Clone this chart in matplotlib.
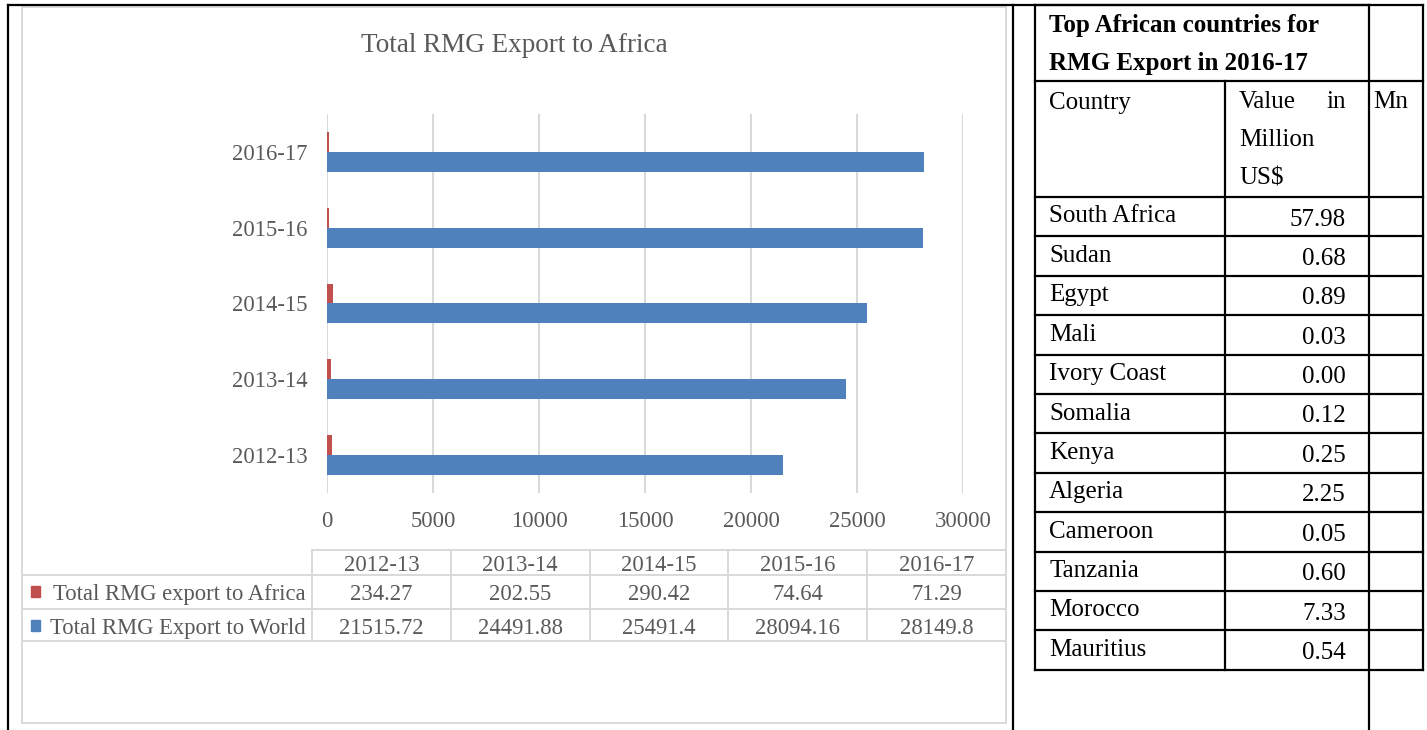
import matplotlib.pyplot as plt
from matplotlib.patches import Rectangle

plt.rcParams['font.family'] = ['Liberation Serif', 'DejaVu Serif']

# export figures, million US$
years = ['2012-13', '2013-14', '2014-15', '2015-16', '2016-17']
africa = [234.27, 202.55, 290.42, 74.64, 71.29]
world = [21515.72, 24491.88, 25491.4, 28094.16, 28149.8]
series_names = ['Total RMG export to Africa', 'Total RMG Export to World']

countries = ['South Africa', 'Sudan', 'Egypt', 'Mali', 'Ivory Coast', 'Somalia',
             'Kenya', 'Algeria', 'Cameroon', 'Tanzania', 'Morocco', 'Mauritius']
country_values = [57.98, 0.68, 0.89, 0.03, 0.00, 0.12, 0.25, 2.25, 0.05, 0.60, 7.33, 0.54]

RED = '#C0504D'
BLUE = '#4F81BD'
GREY_TXT = '#595959'
GRID = '#D9D9D9'
FS_CHART = 16.3
FS_TABLE = 18

W, H = 1427, 730
fig = plt.figure(figsize=(W / 100, H / 100), dpi=100)

# full-page layer in pixel units for borders and tables
bg = fig.add_axes([0, 0, 1, 1], zorder=0)
bg.set_xlim(0, W)
bg.set_ylim(H, 0)
bg.axis('off')

def hline(y, x0, x1, color='black', lw=1.6):
    bg.plot([x0, x1], [y, y], color=color, lw=lw, solid_capstyle='projecting')

def vline(x, y0, y1, color='black', lw=1.6):
    bg.plot([x, x], [y0, y1], color=color, lw=lw, solid_capstyle='projecting')

# page cell borders
hline(5, 8, 1369)
vline(8, 5, H)
vline(1013, 5, H)

# chart area frame
bg.add_patch(Rectangle((21.5, 6.5), 1006 - 21.5, 723 - 6.5, fill=False,
                       edgecolor=GRID, lw=1.4))

# chart
ax = fig.add_axes([327 / W, 1 - 493 / H, 636 / W, 379 / H], zorder=1)
ax.patch.set_alpha(0)
pos = list(range(len(years)))
bh = 0.263
ax.barh([p + bh / 2 for p in pos], africa, height=bh, color=RED)
ax.barh([p - bh / 2 for p in pos], world, height=bh, color=BLUE)
ax.set_xlim(0, 30000)
ax.set_ylim(-0.5, len(years) - 0.5)
ax.set_xticks(range(0, 30001, 5000))
ax.set_yticks(pos, years)
ax.tick_params(length=0, labelsize=FS_CHART, labelcolor=GREY_TXT)
ax.tick_params(axis='y', pad=14)
ax.tick_params(axis='x', pad=13)
ax.grid(axis='x', color=GRID, lw=1.5)
ax.set_axisbelow(True)
for s in ax.spines.values():
    s.set_visible(False)

bg.text(514, 43, 'Total RMG Export to Africa', ha='center', va='center_baseline',
        fontsize=19.5, color=GREY_TXT)

# data table under the chart
col_l, col_r = 312, 1006
cw = (col_r - col_l) / len(years)
row_edges = [550, 575, 609, 641]
hline(row_edges[0], col_l, col_r, GRID, 1.4)
for y in row_edges[1:]:
    hline(y, 22, col_r, GRID, 1.4)
for i in range(len(years) + 1):
    vline(col_l + i * cw, row_edges[0], row_edges[-1], GRID, 1.4)

for i, yr in enumerate(years):
    cx = col_l + (i + 0.5) * cw
    bg.text(cx, 563, yr, ha='center', va='center_baseline', fontsize=FS_CHART, color=GREY_TXT)
    bg.text(cx, 592, str(africa[i]), ha='center', va='center_baseline', fontsize=FS_CHART, color=GREY_TXT)
    bg.text(cx, 626, str(world[i]), ha='center', va='center_baseline', fontsize=FS_CHART, color=GREY_TXT)

for yc, name, c in [(592, series_names[0], RED), (626, series_names[1], BLUE)]:
    bg.add_patch(Rectangle((31, yc - 6), 9, 11, color=c))
    bg.text(306, yc, name, ha='right', va='center_baseline', fontsize=FS_CHART, color=GREY_TXT)

# country table on the right
tl, tc1, tc2, tr = 1035, 1225, 1369, 1423
ttop, thead, tbody = 5, 81, 197
rh = 39.4
tbot = tbody + rh * len(countries)

hline(ttop, tl, tr)
hline(thead, tl, tr)
vline(tl, ttop, tbot)
vline(tr, ttop, tbot)
vline(tc2, ttop, H)
vline(tc1, thead, tbot)
for i in range(len(countries) + 1):
    hline(tbody + i * rh, tl, tr)

bg.text(1049, 23, 'Top African countries for', ha='left', va='center_baseline',
        fontsize=FS_TABLE, fontweight='bold')
bg.text(1049, 61, 'RMG Export in 2016-17', ha='left', va='center_baseline',
        fontsize=FS_TABLE, fontweight='bold')
bg.text(1049, 100, 'Country', ha='left', va='center_baseline', fontsize=FS_TABLE)
bg.text(1239, 100, 'Value', ha='left', va='center_baseline', fontsize=FS_TABLE)
bg.text(1346, 100, 'in', ha='right', va='center_baseline', fontsize=FS_TABLE)
bg.text(1239, 137, 'Million', ha='left', va='center_baseline', fontsize=FS_TABLE)
bg.text(1239, 176, 'US$', ha='left', va='center_baseline', fontsize=FS_TABLE)
bg.text(1373, 100, 'Mn', ha='left', va='center_baseline', fontsize=FS_TABLE)

for i, (name, v) in enumerate(zip(countries, country_values)):
    top = tbody + i * rh
    bg.text(1049, top + 17, name, ha='left', va='center_baseline', fontsize=FS_TABLE)
    bg.text(1346, top + 20, f'{v:.2f}', ha='right', va='center_baseline', fontsize=FS_TABLE)

fig.savefig('out.png', dpi=100)
